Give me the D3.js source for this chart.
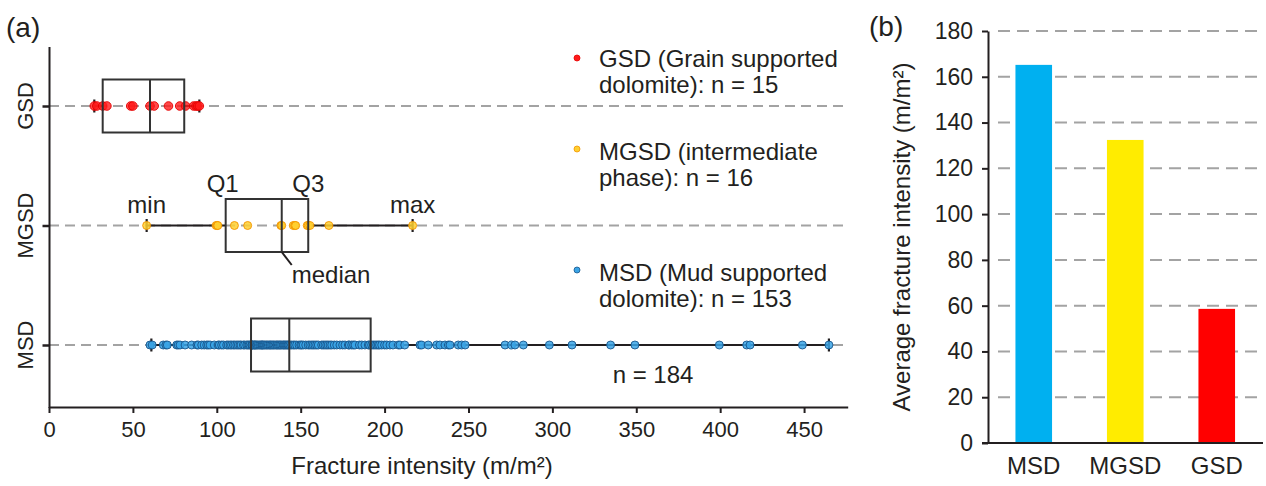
<!DOCTYPE html>
<html>
<head>
<meta charset="utf-8">
<script src="https://cdn.jsdelivr.net/npm/d3@7"></script>
<style>
  body { margin: 0; background: #fff; }
  text { font-family: "Liberation Sans", Arial, Helvetica, sans-serif; fill: #231f20; }
</style>
</head>
<body>
<svg id="chart" width="1266" height="486"></svg>
<script>
// ---- data ----
const groups = ["GSD", "MGSD", "MSD"];

const gsdValues = [27.0, 28.5, 32.0, 34.5, 48.7, 50.0, 60.2, 62.7, 71.2, 77.9, 81.4, 86.2, 87.7, 88.6, 89.6];

const mgsdValues = [58.2, 99.6, 100.2, 100.6, 110.5, 118.4, 138.2, 138.7, 145.6, 146.5, 147.0, 153.9,
                    154.5, 155.5, 166.8, 216.7];

const msdValues = [
  60.2, 61.5, 68.1, 69.7, 70.5, 76.1, 77.0, 78.1, 81.1, 85.0, 88.2, 89.0, 91.0, 92.5, 94.0, 94.9,
  96.0, 98.5, 100.8, 101.5, 102.9, 104.0, 105.9, 106.8, 107.9, 108.8, 109.9, 110.8, 111.9, 112.8,
  113.8, 114.5, 115.8, 116.6, 117.8, 118.5, 119.2, 119.8,
  120.8, 121.0, 121.5, 122.2, 122.7, 122.8, 123.5, 124.0, 124.7, 125.5, 126.1, 126.8, 127.0, 127.5,
  128.1, 128.7, 129.4, 130.0, 130.7, 131.5, 132.0, 132.7, 133.4, 134.0, 134.7, 135.5, 136.0, 136.7,
  137.4, 138.0, 138.7, 139.5, 140.0, 140.6, 141.2, 141.8, 142.4, 142.9,
  143.6, 144.5, 145.6, 146.5, 147.6, 149.0, 150.0, 150.6, 151.5, 153.0, 154.5, 155.5, 156.6, 157.5,
  158.5, 159.5, 160.5, 162.5, 163.5, 164.5, 165.5, 166.4, 167.5, 168.5, 170.0, 171.5, 173.4, 175.0,
  176.4, 178.4, 179.0, 180.4, 181.5, 182.4, 185.0, 186.4, 188.3, 190.3, 191.0,
  192.3, 193.3, 194.3, 195.3, 196.2, 197.0, 198.3, 200.0, 201.3, 203.2, 205.0, 208.2, 209.2, 212.0,
  221.1, 222.1, 226.0, 231.0, 233.0, 236.0, 238.0, 239.0, 243.9, 245.9, 248.0,
  271.8, 275.7, 277.7, 282.7, 298.2, 311.7, 334.7, 349.2, 399.5, 415.8, 417.8, 449.0, 464.8
];

// five-number summaries: min, Q1, median, Q3, max
const gsdSummary  = [27.0, 32.0, 60.2, 80.6, 89.6];
const mgsdSummary = [58.2, 105.3, 138.7, 154.5, 216.7];
const msdSummary  = [61.0, 120.4, 143.2, 191.7, 464.8];

const legendLines = [
  ["GSD (Grain supported", "dolomite): n = 15"],
  ["MGSD (intermediate", "phase): n = 16"],
  ["MSD (Mud supported", "dolomite): n = 153"]
];

const xTicksA = [0, 50, 100, 150, 200, 250, 300, 350, 400, 450];

const barCategories = ["MSD", "MGSD", "GSD"];
const barValues = [165.2, 132.4, 58.6];
const yTicksB = [0, 20, 40, 60, 80, 100, 120, 140, 160, 180];

// ---- styling ----
const ink = "#231f20";
const dotStyle = {
  GSD:  { fill: "#ff1a1a", stroke: "#e60000", opacity: 0.8, r: 4.3 },
  MGSD: { fill: "#ffd030", stroke: "#f39500", opacity: 0.85, r: 4 },
  MSD:  { fill: "#3aa4e6", stroke: "#17558c", opacity: 0.85, r: 4 }
};
const barColors = { MSD: "#00b0f0", MGSD: "#ffec00", GSD: "#ff0000" };

const svg = d3.select("#chart");
svg.append("rect").attr("width", 1266).attr("height", 486).attr("fill", "#fff");

// ================= panel (a): box plots =================
const pa = svg.append("g");
const xA = d3.scaleLinear().domain([0, 476]).range([49, 847.7]);
const yA = d3.scalePoint().domain(groups).range([106, 345]);

const valuesByGroup = { GSD: gsdValues, MGSD: mgsdValues, MSD: msdValues };
const summaryByGroup = { GSD: gsdSummary, MGSD: mgsdSummary, MSD: msdSummary };

// dashed row guides
pa.selectAll("line.guide").data(groups).join("line")
  .attr("x1", xA(0)).attr("x2", xA(476))
  .attr("y1", d => yA(d)).attr("y2", d => yA(d))
  .attr("stroke", "#a3a3a3").attr("stroke-width", 2).attr("stroke-dasharray", "10 6");

// x axis
const axA = pa.append("g").attr("transform", "translate(0,407)")
  .call(d3.axisBottom(xA).tickValues(xTicksA).tickSize(6).tickSizeOuter(0).tickPadding(8));
axA.select(".domain").attr("stroke", ink).attr("stroke-width", 2);
axA.selectAll(".tick line").attr("stroke", ink).attr("stroke-width", 2);
axA.selectAll(".tick text").attr("font-size", 22).attr("fill", ink)
  .attr("font-family", "'Liberation Sans', Arial, sans-serif");

// y axis
const ayA = pa.append("g").attr("transform", "translate(49.5,0)")
  .call(d3.axisLeft(yA).tickSize(7).tickFormat(""));
ayA.select(".domain").remove();
ayA.selectAll(".tick line").attr("stroke", ink).attr("stroke-width", 2.5);
pa.append("line").attr("x1", 49.5).attr("x2", 49.5).attr("y1", 47).attr("y2", 408)
  .attr("stroke", ink).attr("stroke-width", 2);
pa.selectAll("text.ylab").data(groups).join("text")
  .attr("transform", d => `translate(33,${yA(d)}) rotate(-90)`)
  .attr("text-anchor", "middle").attr("font-size", 22).text(d => d);

// whiskers, points and boxes
const boxH = 53;
groups.forEach(g => {
  const [mn, q1, md, q3, mx] = summaryByGroup[g];
  const cy = yA(g);
  const gg = pa.append("g");
  gg.append("line").attr("x1", xA(mn)).attr("x2", xA(q1)).attr("y1", cy).attr("y2", cy)
    .attr("stroke", ink).attr("stroke-width", 2.2);
  gg.append("line").attr("x1", xA(q3)).attr("x2", xA(mx)).attr("y1", cy).attr("y2", cy)
    .attr("stroke", ink).attr("stroke-width", 2.2);
  [mn, mx].forEach(v => gg.append("line").attr("x1", xA(v)).attr("x2", xA(v))
    .attr("y1", cy - 6.5).attr("y2", cy + 6.5).attr("stroke", ink).attr("stroke-width", 2.2));
  const st = dotStyle[g];
  gg.selectAll("circle").data(valuesByGroup[g]).join("circle")
    .attr("cx", d => xA(d)).attr("cy", cy).attr("r", st.r)
    .attr("fill", st.fill).attr("stroke", st.stroke).attr("stroke-width", 1)
    .attr("fill-opacity", st.opacity).attr("stroke-opacity", 0.9);
  gg.append("rect").attr("x", xA(q1)).attr("y", cy - boxH / 2)
    .attr("width", xA(q3) - xA(q1)).attr("height", boxH)
    .attr("fill", "none").attr("stroke", "#333").attr("stroke-width", 2);
  gg.append("line").attr("x1", xA(md)).attr("x2", xA(md))
    .attr("y1", cy - boxH / 2).attr("y2", cy + boxH / 2)
    .attr("stroke", "#333").attr("stroke-width", 2);
});

// box-plot annotations on the MGSD row
const mg = mgsdSummary, mgY = yA("MGSD");
pa.append("text").attr("x", xA(mg[0])).attr("y", mgY - 13).attr("text-anchor", "middle")
  .attr("font-size", 24).text("min");
pa.append("text").attr("x", xA(mg[4])).attr("y", mgY - 13).attr("text-anchor", "middle")
  .attr("font-size", 24).text("max");
pa.append("text").attr("x", xA(mg[1]) - 3).attr("y", mgY - 34).attr("text-anchor", "middle")
  .attr("font-size", 24).text("Q1");
pa.append("text").attr("x", xA(mg[3])).attr("y", mgY - 34).attr("text-anchor", "middle")
  .attr("font-size", 24).text("Q3");
pa.append("line").attr("x1", xA(mg[2])).attr("y1", mgY + boxH / 2)
  .attr("x2", xA(mg[2]) + 10).attr("y2", mgY + boxH / 2 + 13)
  .attr("stroke", ink).attr("stroke-width", 2);
pa.append("text").attr("x", xA(mg[2]) + 10).attr("y", mgY + 57)
  .attr("font-size", 24).text("median");

pa.append("text").attr("x", 653).attr("y", 383).attr("text-anchor", "middle")
  .attr("font-size", 24).text("n = 184");

// legend
const legendRows = [
  { g: "GSD", dotY: 58, base: 67 },
  { g: "MGSD", dotY: 149, base: 160 },
  { g: "MSD", dotY: 270, base: 281 }
];
legendRows.forEach((r, i) => {
  const st = dotStyle[r.g];
  pa.append("circle").attr("cx", 577).attr("cy", r.dotY).attr("r", 3)
    .attr("fill", st.fill).attr("stroke", st.stroke).attr("stroke-width", 0.8);
  legendLines[i].forEach((ln, j) => {
    pa.append("text").attr("x", 599).attr("y", r.base + j * 26)
      .attr("font-size", 24).text(ln);
  });
});

pa.append("text").attr("x", 422).attr("y", 474).attr("text-anchor", "middle")
  .attr("font-size", 24).text("Fracture intensity (m/m²)");
pa.append("text").attr("x", 6).attr("y", 37).attr("font-size", 28).text("(a)");

// ================= panel (b): averages =================
const pb = svg.append("g");
const yB = d3.scaleLinear().domain([0, 180]).range([443, 31]);
const xB = d3.scaleBand().domain(barCategories).range([988, 1262.5])
  .paddingInner(0.6).paddingOuter(0.3);

// dashed grid
pb.selectAll("line.grid").data(yTicksB.filter(v => v > 0)).join("line")
  .attr("x1", 998).attr("x2", 1263)
  .attr("y1", d => yB(d)).attr("y2", d => yB(d))
  .attr("stroke", "#a3a3a3").attr("stroke-width", 2).attr("stroke-dasharray", "12 7");

pb.selectAll("rect.bar").data(barCategories).join("rect")
  .attr("x", d => xB(d)).attr("width", xB.bandwidth())
  .attr("y", (d, i) => yB(barValues[i]))
  .attr("height", (d, i) => yB(0) - yB(barValues[i]))
  .attr("fill", d => barColors[d]);

const ayB = pb.append("g").attr("transform", "translate(988,0)")
  .call(d3.axisLeft(yB).tickValues(yTicksB).tickSize(6).tickPadding(9).tickSizeOuter(0));
ayB.select(".domain").attr("stroke", ink).attr("stroke-width", 2);
ayB.selectAll(".tick line").attr("stroke", ink).attr("stroke-width", 2);
ayB.selectAll(".tick text").attr("font-size", 23).attr("fill", ink)
  .attr("font-family", "'Liberation Sans', Arial, sans-serif");

pb.append("line").attr("x1", 982).attr("x2", 1263).attr("y1", 443).attr("y2", 443)
  .attr("stroke", ink).attr("stroke-width", 2);

const axB = pb.append("g").attr("transform", "translate(0,443)")
  .call(d3.axisBottom(xB).tickSize(0).tickPadding(14));
axB.select(".domain").remove();
axB.selectAll(".tick text").attr("font-size", 24).attr("fill", ink)
  .attr("font-family", "'Liberation Sans', Arial, sans-serif");

pb.append("text").attr("transform", "translate(910,237) rotate(-90)")
  .attr("text-anchor", "middle").attr("font-size", 24)
  .text("Average fracture intensity (m/m²)");
pb.append("text").attr("x", 869).attr("y", 36).attr("font-size", 28).text("(b)");
</script>
</body>
</html>
